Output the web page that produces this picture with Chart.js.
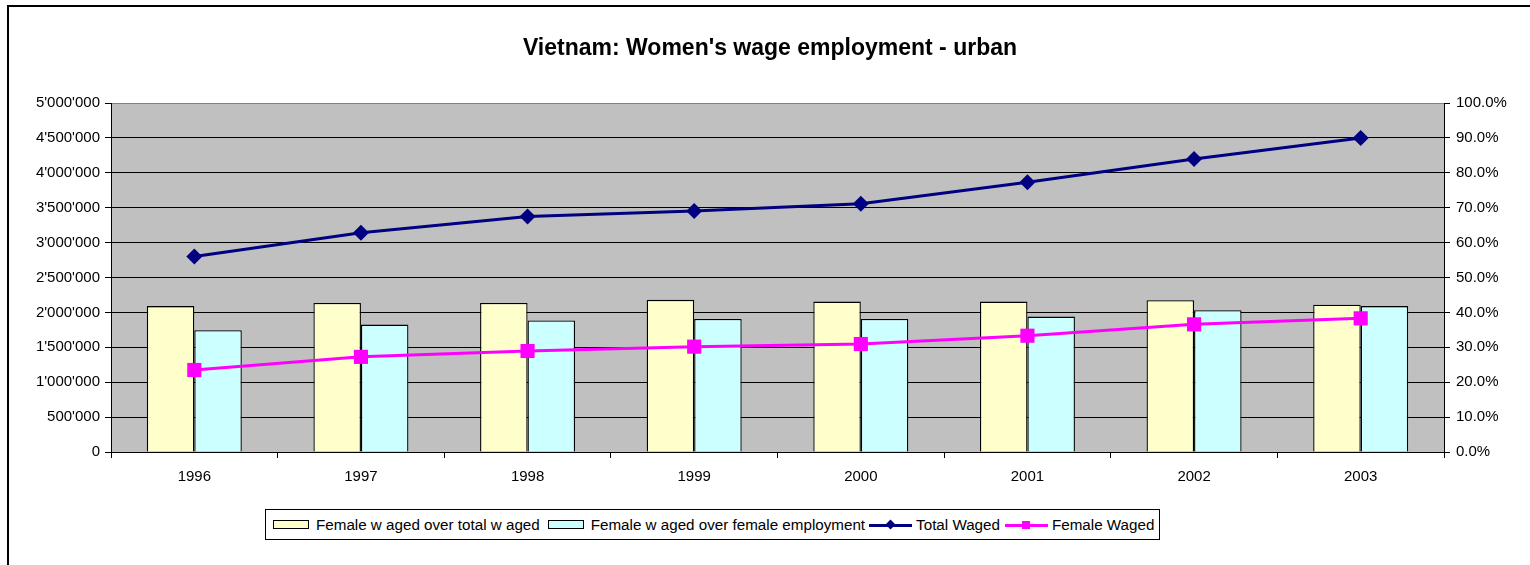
<!DOCTYPE html>
<html>
<head>
<meta charset="utf-8">
<script src="https://cdn.jsdelivr.net/npm/chart.js@4.4.0/dist/chart.umd.min.js"></script>
<style>
  body { margin: 0; background: #fff; width: 1530px; height: 565px; overflow: hidden; position: relative; }
  #frame { position: absolute; left: 7px; top: 5px; width: 1600px; height: 700px; border: 2px solid #000; }
  #wrap { position: absolute; left: 0; top: 0; width: 1530px; height: 565px; }
  #legend { position: absolute; left: 265px; top: 509px; width: 893px; height: 29px; border: 1px solid #000;
    display: flex; align-items: center; justify-content: flex-start; padding-left: 0; box-sizing: content-box;
    font-family: "Liberation Sans", Arial, sans-serif; font-size: 15.2px; color: #000; background: #fff; }
  .item { display: flex; align-items: center; white-space: pre; }
  .box { width: 34px; height: 7px; border: 1px solid #000; margin-right: 7px; }
  .ln { position: relative; width: 43px; height: 14px; margin-right: 4px; }
  .ln .bar { position: absolute; left: 0; right: 0; top: 6px; height: 3px; }
  .ln .mk { position: absolute; left: 17px; top: 3px; width: 8px; height: 8px; }
</style>
</head>
<body>
<div id="frame"></div>
<div id="wrap"><canvas id="graph" width="1530" height="565"></canvas></div>
<div id="legend"></div>
<script>
   /// data ///
   const years = ['1996', '1997', '1998', '1999', '2000', '2001', '2002', '2003']
   // bars, percent (right axis)
   const femaleOverTotal = [41.8, 42.7, 42.7, 43.6, 43.1, 43.1, 43.5, 42.2]
   const femaleOverFemaleEmp = [34.9, 36.5, 37.7, 38.1, 38.1, 38.8, 40.6, 41.8]
   // lines, persons (left axis)
   const totalWaged = [2800000, 3140000, 3375000, 3453000, 3555000, 3866000, 4198000, 4499000]
   const femaleWaged = [1175000, 1363000, 1447000, 1509000, 1547000, 1666000, 1829000, 1915000]
   const seriesNames = ['Female w aged over total w aged', 'Female w aged over female employment', 'Total Waged', 'Female Waged']

   const font = "'Liberation Sans', Arial, sans-serif"

   function apos(v) {
     return String(v).replace(/\B(?=(\d{3})+(?!\d))/g, "'")
   }

   /// grey plot area ///
   const plotBg = {
     id: 'plotBg',
     beforeDraw(chart) {
       const a = chart.chartArea
       const ctx = chart.ctx
       ctx.save()
       ctx.fillStyle = '#C0C0C0'
       ctx.fillRect(a.left, a.top, a.right - a.left, a.bottom - a.top)
       ctx.restore()
     }
   }

   const ctx = document.getElementById('graph').getContext('2d')
   const myChart = new Chart(ctx, {
     type: 'bar',
     data: {
       labels: years,
       datasets: [
         { type: 'line', label: seriesNames[2], data: totalWaged, yAxisID: 'y', order: 0,
           borderColor: '#000080', backgroundColor: '#000080', borderWidth: 3, tension: 0,
           pointStyle: 'rectRot', pointRadius: 8, pointBorderWidth: 0 },
         { type: 'line', label: seriesNames[3], data: femaleWaged, yAxisID: 'y', order: 0,
           borderColor: '#FF00FF', backgroundColor: '#FF00FF', borderWidth: 3, tension: 0,
           pointStyle: 'rect', pointRadius: 10, pointBorderWidth: 0 },
         { label: seriesNames[0], data: femaleOverTotal, yAxisID: 'y1', order: 1,
           backgroundColor: '#FFFFCC', borderColor: '#000', borderWidth: 1.3,
           categoryPercentage: 0.57, barPercentage: 1 },
         { label: seriesNames[1], data: femaleOverFemaleEmp, yAxisID: 'y1', order: 2,
           backgroundColor: '#CCFFFF', borderColor: '#000', borderWidth: 1.3,
           categoryPercentage: 0.57, barPercentage: 1 }
       ]
     },
     options: {
       responsive: false,
       animation: false,
       layout: { padding: { left: 10, right: 0, top: 0, bottom: 0 } },
       plugins: {
         legend: { display: false },
         tooltip: { enabled: false },
         title: {
           display: true,
           text: "Vietnam: Women's wage employment - urban",
           color: '#000',
           font: { family: font, size: 23, weight: 'bold' },
           padding: { top: 35, bottom: 40.4 }
         }
       },
       scales: {
         x: {
           grid: { offset: true, drawOnChartArea: false, tickLength: 6, color: '#000' },
           border: { color: '#000', width: 1 },
           ticks: { color: '#000', font: { family: font, size: 15 }, padding: 10 },
           afterFit(s) { s.height = 113 }
         },
         y: {
           position: 'left', min: 0, max: 5000000,
           grid: { color: c => c.tick && c.tick.value === 5000000 ? '#808080' : '#000', tickColor: '#000', tickLength: 6 },
           border: { color: '#000', width: 1 },
           ticks: { stepSize: 500000, color: '#000', font: { family: font, size: 15 }, padding: 5,
             callback: v => apos(v) },
           afterFit(s) { s.width = 101 }
         },
         y1: {
           position: 'right', min: 0, max: 100,
           grid: { drawOnChartArea: false, color: '#000', tickLength: 6 },
           border: { color: '#000', width: 1 },
           ticks: { stepSize: 10, color: '#000', font: { family: font, size: 15 }, padding: 6,
             callback: v => v.toFixed(1) + '%' },
           afterFit(s) { s.width = 86 }
         }
       }
     },
     plugins: [plotBg]
   })

   /// legend ///
   function buildLegend(chart) {
     const leg = document.getElementById('legend')
     const order = [2, 3, 0, 1]
     const gaps = [[7, 8], [0, 4], [0, 5], [0, 0]]
     order.forEach((i, k) => {
       const ds = chart.data.datasets[i]
       const it = document.createElement('div')
       it.className = 'item'
       it.style.marginLeft = gaps[k][0] + 'px'
       it.style.marginRight = gaps[k][1] + 'px'
       if (ds.type === 'line') {
         const sw = document.createElement('span')
         sw.className = 'ln'
         const mk = ds.pointStyle === 'rectRot' ? 'transform: rotate(45deg); width:7px; height:7px; left:18px; top:3.5px;' : ''
         sw.innerHTML = '<span class="bar" style="background:' + ds.borderColor + '"></span>' +
           '<span class="mk" style="background:' + ds.borderColor + ';' + mk + '"></span>'
         it.appendChild(sw)
       } else {
         const sw = document.createElement('span')
         sw.className = 'box'
         sw.style.background = ds.backgroundColor
         it.appendChild(sw)
       }
       it.appendChild(document.createTextNode(ds.label))
       leg.appendChild(it)
     })
   }
   buildLegend(myChart)
</script>
</body>
</html>
